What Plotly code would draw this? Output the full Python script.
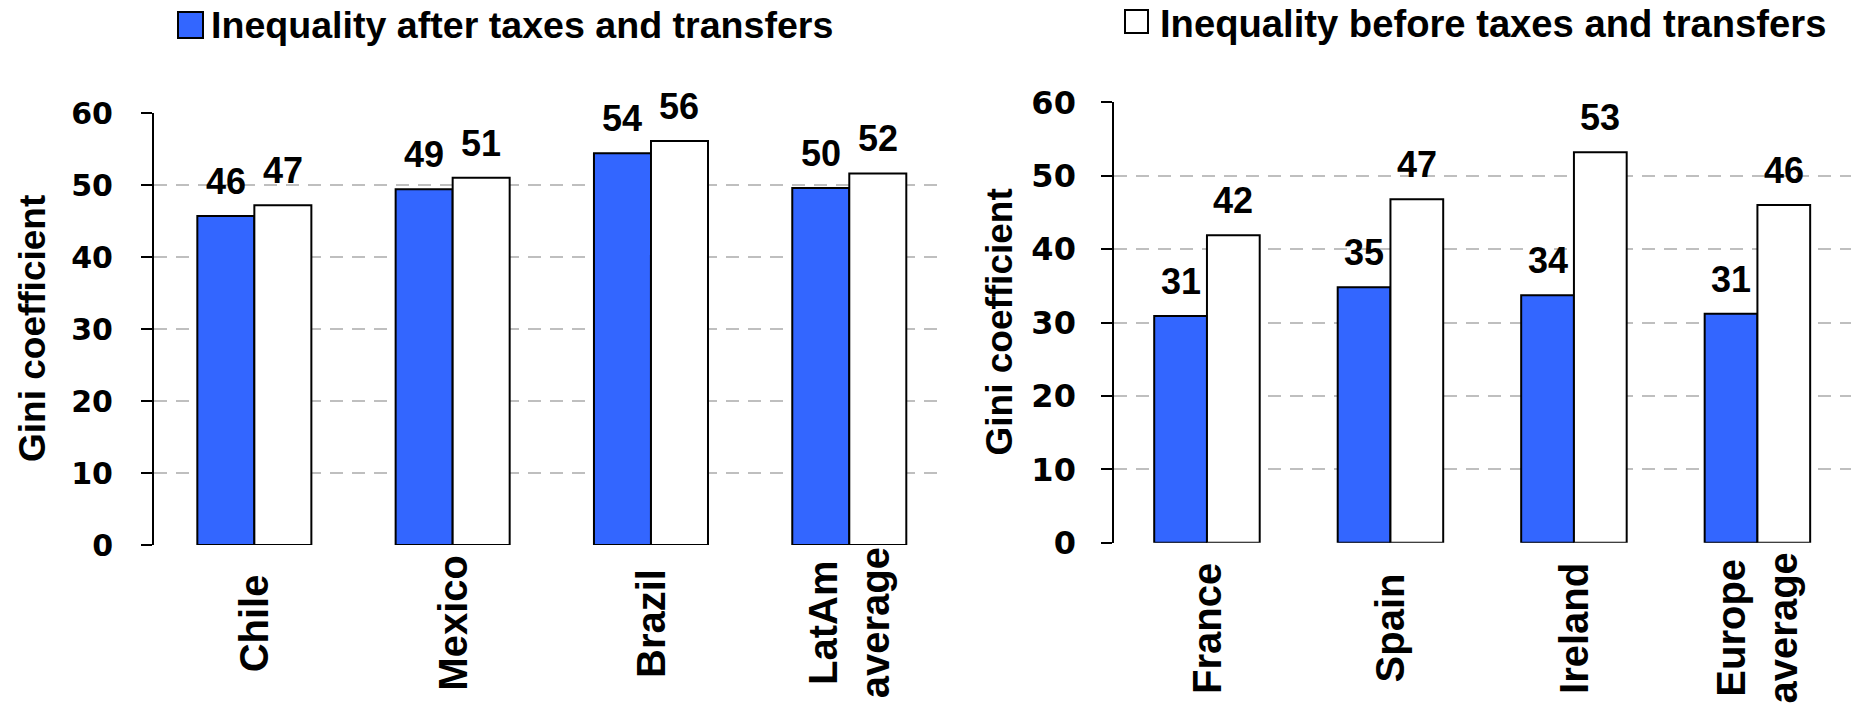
import plotly.graph_objects as go

# ---------------- data ----------------
left_categories = ["Chile", "Mexico", "Brazil", "LatAm average"]
left_after = [45.7, 49.4, 54.4, 49.6]
left_before = [47.2, 51.0, 56.1, 51.6]

right_categories = ["France", "Spain", "Ireland", "Europe average"]
right_after = [30.9, 34.8, 33.7, 31.2]
right_before = [41.9, 46.8, 53.2, 46.0]

y_ticks = [0, 10, 20, 30, 40, 50, 60]
y_title = "Gini coefficient"
legend_after = "Inequality after taxes and transfers"
legend_before = "Inequality before taxes and transfers"

# ---------------- style ----------------
W, H = 1851, 726
BLUE = "#3366FF"
GRID = "#BFBFBF"
BARGAP = 0.425
ARIAL = "Liberation Sans, Arial, sans-serif"
WIDE = "DejaVu Sans, Verdana, sans-serif"


def px_x(p):
    return p / W


def px_y(p):
    return 1 - p / H


fig = go.Figure()

panels = [
    dict(cats=left_categories, after=left_after, before=left_before, xa="x", ya="y",
         xdom=[px_x(154), px_x(941.7)], ydom=[px_y(545), px_y(113)], xr=[-0.506, 3.466],
         tickfs=30, standoff=22, title_x=px_x(32), label_y=px_y(623)),
    dict(cats=right_categories, after=right_after, before=right_before, xa="x2", ya="y2",
         xdom=[px_x(1114.3), 1.0], ydom=[px_y(542.7), px_y(102.3)], xr=[-0.505, 3.51],
         tickfs=32, standoff=19, title_x=px_x(999), label_y=px_y(628)),
]

annotations = []
bw = (1 - BARGAP) / 2

for k, p in enumerate(panels):
    fig.add_trace(go.Bar(x=p["cats"], y=p["after"], name=legend_after,
                         marker=dict(color=BLUE, line=dict(color="black", width=2)),
                         xaxis=p["xa"], yaxis=p["ya"], showlegend=False))
    fig.add_trace(go.Bar(x=p["cats"], y=p["before"], name=legend_before,
                         marker=dict(color="white", line=dict(color="black", width=2)),
                         xaxis=p["xa"], yaxis=p["ya"], showlegend=False))
    sfx = "" if k == 0 else "2"
    fig.update_layout(**{
        "xaxis" + sfx: dict(domain=p["xdom"], range=p["xr"], type="category",
                            showticklabels=False, showgrid=False, showline=False,
                            zeroline=False, ticks="", anchor="y" + sfx),
        "yaxis" + sfx: dict(domain=p["ydom"], range=[0, 60], tickvals=y_ticks,
                            showline=True, linecolor="black", linewidth=2,
                            ticks="outside", ticklen=11, tickwidth=2, tickcolor="black",
                            showgrid=True, gridcolor=GRID, gridwidth=2, griddash="13px,9px",
                            zeroline=False, ticklabelstandoff=p["standoff"],
                            tickfont=dict(family=WIDE, size=p["tickfs"], color="black", weight="bold"),
                            anchor="x" + sfx),
    })
    # data labels
    for i, (a, b) in enumerate(zip(p["after"], p["before"])):
        for xpos, val in ((i - bw / 2, a), (i + bw / 2, b)):
            annotations.append(dict(x=xpos, y=val, xref=p["xa"], yref=p["ya"],
                                    text=f"{val:.0f}", showarrow=False,
                                    xanchor="center", yanchor="bottom", yshift=12,
                                    font=dict(family=ARIAL, size=36, color="black", weight="bold")))
    # category labels
    for i, c in enumerate(p["cats"]):
        annotations.append(dict(x=i, y=p["label_y"], xref=p["xa"], yref="paper",
                                text=c.replace(" average", "<br>average"), showarrow=False,
                                textangle=-90, xanchor="center", yanchor="middle",
                                font=dict(family=ARIAL, size=40, color="black", weight="bold")))
    # axis title
    annotations.append(dict(x=p["title_x"], y=(p["ydom"][0] + p["ydom"][1]) / 2,
                            xref="paper", yref="paper", text=y_title, showarrow=False,
                            textangle=-90, xanchor="center", yanchor="middle",
                            font=dict(family=ARIAL, size=37, color="black", weight="bold")))

# legend entries (drawn as swatch + text)
shapes = [
    dict(type="rect", xref="paper", yref="paper", x0=px_x(178), x1=px_x(203),
         y0=px_y(38), y1=px_y(12), fillcolor=BLUE, line=dict(color="black", width=2)),
    dict(type="rect", xref="paper", yref="paper", x0=px_x(1125), x1=px_x(1148),
         y0=px_y(33), y1=px_y(10), fillcolor="white", line=dict(color="black", width=2)),
]
annotations.append(dict(x=px_x(209), y=px_y(25), xref="paper", yref="paper",
                        text=legend_after, showarrow=False, xanchor="left", yanchor="middle",
                        font=dict(family=ARIAL, size=37.6, color="black", weight="bold")))
annotations.append(dict(x=px_x(1158), y=px_y(23), xref="paper", yref="paper",
                        text=legend_before, showarrow=False, xanchor="left", yanchor="middle",
                        font=dict(family=ARIAL, size=38.2, color="black", weight="bold")))

fig.update_layout(width=W, height=H, autosize=False,
                  margin=dict(l=0, r=0, t=0, b=0, autoexpand=False),
                  paper_bgcolor="white", plot_bgcolor="white",
                  barmode="group", bargap=BARGAP, bargroupgap=0,
                  showlegend=False, annotations=annotations, shapes=shapes)

# remove the browser's default 8px page margin so the figure fills the window exactly
fig.write_html("out.html", config={"displayModeBar": False},
               post_script="document.body.style.margin='0px';")
